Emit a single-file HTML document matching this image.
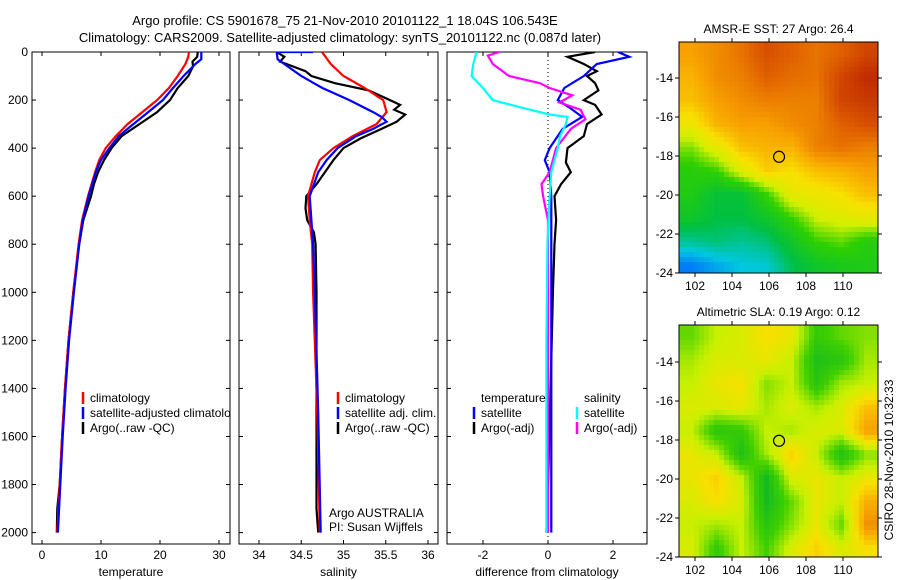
<!DOCTYPE html>
<html><head><meta charset="utf-8"><style>
body{margin:0;background:#fff;}
svg{display:block;font-family:"Liberation Sans",sans-serif;}
</style></head><body>
<svg id="fig" width="900" height="580" viewBox="0 0 900 580">
<text x="345" y="25" font-size="13" text-anchor="middle">Argo profile: CS 5901678_75 21-Nov-2010 20101122_1 18.04S 106.543E</text>
<text x="340" y="42" font-size="13" text-anchor="middle">Climatology: CARS2009. Satellite-adjusted climatology: synTS_20101122.nc (0.087d later)</text>
<text transform="translate(893,460) rotate(-90)" font-size="12" text-anchor="middle">CSIRO 28-Nov-2010 10:32:33</text>
</svg>
<script>
// ---- data ----
const tempClimP=[0,20,50,100,150,200,250,300,350,400,450,500,600,700,800,1000,1200,1400,1600,1800,2000];
const tempClimV=[24.9,24.8,24.3,23,21.5,19.5,17,14.5,12.5,10.8,9.7,9,7.8,6.8,6.2,5.3,4.5,3.9,3.4,3.0,2.6];
const tempSatP=[0,30,50,100,150,200,250,300,350,400,450,500,600,700,800,1000,1200,1400,1600,1800,2000];
const tempSatV=[27,27,26,24,22.2,20.5,18,15.5,13,11.4,10,9.1,7.9,6.9,6.3,5.4,4.6,4.0,3.5,3.1,2.7];
const tempArgoP=[0,20,40,60,100,150,200,250,300,350,400,450,500,550,600,700,800,1000,1200,1400,1600,1800,1900,2000];
const tempArgoV=[26.4,26.3,25.5,25.6,24.8,23,21.7,19.5,16.5,13.5,11.8,10.5,9.5,8.8,8.3,7.0,6.3,5.3,4.5,3.9,3.4,3.0,2.6,2.5];
const salClimP=[0,50,100,150,200,250,300,350,400,450,500,600,700,800,1000,1500,2000];
const salClimV=[34.745,34.85,35.0,35.25,35.47,35.51,35.39,35.11,34.88,34.72,34.66,34.58,34.6,34.63,34.64,34.69,34.72];
const salSatP=[0,0,30,50,80,100,130,150,200,250,270,290,320,350,400,450,500,600,700,800,1000,1500,2000];
const salSatV=[34.64,34.21,34.22,34.3,34.42,34.5,34.65,34.75,35.07,35.35,35.45,35.51,35.35,35.15,34.93,34.8,34.7,34.6,34.62,34.64,34.66,34.7,34.73];
const salArgoP=[0,20,40,60,80,100,130,160,200,220,240,260,290,320,360,400,450,500,550,600,650,700,750,800,1000,1500,1900,2000];
const salArgoV=[34.21,34.3,34.25,34.4,34.55,34.62,34.9,35.3,35.55,35.67,35.6,35.73,35.63,35.45,35.2,35.0,34.88,34.78,34.68,34.56,34.55,34.57,34.65,34.67,34.68,34.68,34.68,34.7];
const dTSatP=[0,20,50,100,150,200,230,270,320,400,450,500,600,800,1000,1500,2000];
const dTSatV=[2.15,2.5,1.5,1.1,0.5,0.3,0.65,1.05,0.45,0.05,-0.1,0.05,0.1,0.1,0.1,0.1,0.1];
const dTArgoP=[0,20,50,80,100,130,160,200,220,260,300,350,400,460,500,550,600,700,800,1000,1400,1800,2000];
const dTArgoV=[1.45,0.6,1.1,1.5,1.2,1.45,1.55,1.1,1.45,1.65,1.2,1.1,0.6,0.55,0.7,0.4,0.2,0.25,0.2,0.15,0.08,0.0,-0.05];
const dSSatP=[0,50,100,150,200,230,260,270,300,350,400,450,500,600,800,1200,2000];
const dSSatV=[-2.2,-2.3,-2.35,-2.0,-1.7,-0.85,0.05,0.6,0.55,0.37,0.3,0.2,0.1,0.05,-0.02,-0.05,-0.05];
const dSArgoP=[0,15,50,100,130,150,180,210,240,280,320,400,500,550,600,700,1000,1500,2000];
const dSArgoV=[-1.5,-1.85,-1.7,-1.2,-0.25,0.05,0.75,0.35,1.0,1.15,0.7,0.25,0.05,-0.2,-0.15,0,0,0,0];
const pTicks=[0,200,400,600,800,1000,1200,1400,1600,1800,2000];
const tTicks=[0,10,20,30];
const sTicks=[34,34.5,35,35.5,36];
const dTicks=[-2,0,2];
const latTicks=[-14,-16,-18,-20,-22,-24];
const lonTicks=[102,104,106,108,110];
const sstGrid=[
[.75,.78,.82,.88,.85,.82,.85,.9],
[.72,.78,.8,.85,.83,.82,.9,.95],
[.7,.75,.78,.8,.8,.8,.9,.92],
[.62,.72,.75,.75,.78,.8,.85,.88],
[.5,.6,.7,.72,.72,.8,.82,.8],
[.42,.45,.58,.68,.65,.7,.72,.75],
[.4,.32,.32,.45,.6,.62,.65,.7],
[.35,.3,.3,.35,.45,.55,.58,.6],
[.22,.25,.22,.25,.35,.45,.48,.42],
[.04,.1,.15,.16,.28,.35,.38,.4]];
const slaGrid=[
[.35,.5,.55,.65,.6,.25,.35,.4],
[.45,.55,.55,.6,.5,.15,.2,.45],
[.5,.6,.65,.4,.5,.2,.45,.5],
[.55,.55,.6,.45,.55,.45,.55,.75],
[.5,.2,.25,.5,.45,.55,.55,.85],
[.6,.5,.15,.45,.7,.5,.15,.4],
[.6,.7,.5,.1,.55,.6,.5,.6],
[.55,.65,.55,.1,.35,.6,.5,.8],
[.5,.45,.5,.2,.4,.6,.35,.9],
[.55,.25,.5,.3,.55,.7,.55,.65]];
const argoLon=106.543, argoLat=-18.04;

const NS="http://www.w3.org/2000/svg";
const svg=document.getElementById('fig');
function mk(tag,attrs,parent){const e=document.createElementNS(NS,tag);for(const k in attrs)e.setAttribute(k,attrs[k]);(parent||svg).appendChild(e);return e;}

const PTOP=52,PBOT=544;
const yP=p=>PTOP+p*0.2403;

function panel(name,x0,x1,xs,ticks,fmt,xlabel,showY){
  const g=mk('g',{});
  
  
  const fr=mk('rect',{x:x0,y:PTOP,width:x1-x0,height:PBOT-PTOP,fill:'none',stroke:'#000','stroke-width':1},g);
  
  
  pTicks.forEach(p=>{
    const y=yP(p);
    mk('line',{x1:x0,x2:x0+4,y1:y,y2:y,stroke:'#000'},g);
    mk('line',{x1:x1-4,x2:x1,y1:y,y2:y,stroke:'#000'},g);
    if(showY){const t=mk('text',{x:x0-4,y:y+4,'font-size':12,'text-anchor':'end'},g);t.textContent=p;
      
      }
  });
  ticks.forEach(v=>{
    const x=xs(v);
    mk('line',{x1:x,x2:x,y1:PTOP,y2:PTOP+4,stroke:'#000'},g);
    mk('line',{x1:x,x2:x,y1:PBOT-4,y2:PBOT,stroke:'#000'},g);
    const t=mk('text',{x:x,y:PBOT+15,'font-size':12,'text-anchor':'middle'},g);t.textContent=fmt(v);
    
    
  });
  const xl=mk('text',{x:(x0+x1)/2,y:PBOT+32,'font-size':12,'text-anchor':'middle'},g);xl.textContent=xlabel;
  
  
  return g;
}
let clipN=0;
function line(g,P,V,xs,color,name,x0,x1){
  const cid='clip'+(clipN++);
  const cp=mk('clipPath',{id:cid},g);mk('rect',{x:x0,y:PTOP,width:x1-x0,height:PBOT-PTOP},cp);
  const d=P.map((p,i)=>(i?'L':'M')+xs(V[i]).toFixed(1)+','+yP(p).toFixed(1)).join('');
  const e=mk('path',{d:d,fill:'none',stroke:color,'stroke-width':2.2,'clip-path':'url(#'+cid+')'},g);
  
  
}
function legend(g,x,y,color,label,name){
  if(color){mk('line',{x1:x,x2:x,y1:y-10,y2:y+2,stroke:color,'stroke-width':2.5},g);}
  const t=mk('text',{x:x+7,y:y,'font-size':12},g);t.textContent=label;
  
  
}

// Panel 1 temperature
const xT=v=>42+v*5.9;
const g1=panel('temperature-panel',32,230,xT,tTicks,v=>v,'temperature',true);
line(g1,tempArgoP,tempArgoV,xT,'#000','temp-argo-line',32,230);
line(g1,tempClimP,tempClimV,xT,'#f00','temp-climatology-line',32,230);
line(g1,tempSatP,tempSatV,xT,'#00f','temp-satellite-line',32,230);
const c1=mk('clipPath',{id:'lc1'},g1);mk('rect',{x:32,y:PTOP,width:198,height:PBOT-PTOP},c1);
const lg1=mk('g',{'clip-path':'url(#lc1)'},g1);
legend(lg1,83,402,'#f00','climatology','legend-climatology');
legend(lg1,83,417,'#00f','satellite-adjusted climatology','legend-satellite');
legend(lg1,83,432,'#000','Argo(..raw -QC)','legend-argo');

// Panel 2 salinity
const xS=v=>259+(v-34)*84.5;
const g2=panel('salinity-panel',239,438,xS,sTicks,v=>v,'salinity',false);
line(g2,salArgoP,salArgoV,xS,'#000','sal-argo-line',239,438);
line(g2,salClimP,salClimV,xS,'#f00','sal-climatology-line',239,438);
line(g2,salSatP,salSatV,xS,'#00f','sal-satellite-line',239,438);
legend(g2,338,402,'#f00','climatology','legend-climatology');
legend(g2,338,417,'#00f','satellite adj. clim.','legend-satellite');
legend(g2,338,432,'#000','Argo(..raw -QC)','legend-argo');
legend(g2,322,517,null,'Argo AUSTRALIA','argo-australia-label');
legend(g2,322,531,null,'PI: Susan Wijffels','pi-label');

// Panel 3 differences
const xD=v=>548+v*32.5;
const g3=panel('difference-panel',447,647,xD,dTicks,v=>v,'difference from climatology',false);
mk('line',{x1:xD(0),x2:xD(0),y1:PTOP,y2:PBOT,stroke:'#000','stroke-dasharray':'1,3'},g3);
line(g3,dTArgoP,dTArgoV,xD,'#000','diff-temp-argo-line',447,647);
line(g3,dTSatP,dTSatV,xD,'#00f','diff-temp-satellite-line',447,647);
line(g3,dSArgoP,dSArgoV,xD,'#f0f','diff-sal-argo-line',447,647);
line(g3,dSSatP,dSSatV,xD,'#0ff','diff-sal-satellite-line',447,647);
legend(g3,474,402,null,'temperature','legend-temperature-header');
legend(g3,577,402,null,'salinity','legend-salinity-header');
legend(g3,474,417,'#00f','satellite','legend-temp-satellite');
legend(g3,474,432,'#000','Argo(-adj)','legend-temp-argo');
legend(g3,577,417,'#0ff','satellite','legend-sal-satellite');
legend(g3,577,432,'#f0f','Argo(-adj)','legend-sal-argo');

// Maps
function lerpColor(stops,v){
  v=Math.max(0,Math.min(1,v));
  for(let i=1;i<stops.length;i++){if(v<=stops[i][0]){const a=stops[i-1],b=stops[i];const t=(v-a[0])/(b[0]-a[0]);
    const c=[0,1,2].map(k=>Math.round(a[1][k]+(b[1][k]-a[1][k])*t));return 'rgb('+c.join(',')+')';}}
  return 'rgb('+stops[stops.length-1][1].join(',')+')';
}
const sstStops=[[0,[0,96,255]],[0.15,[0,200,224]],[0.3,[0,192,64]],[0.45,[48,208,0]],[0.55,[208,240,0]],[0.65,[248,224,0]],[0.75,[248,160,0]],[0.85,[224,96,0]],[1,[176,16,0]]];
const slaStops=[[0,[0,176,48]],[0.3,[64,208,0]],[0.5,[200,240,0]],[0.65,[248,224,0]],[0.8,[248,176,0]],[1,[232,112,0]]];
function sample(grid,fx,fy){
  const R=grid.length,C=grid[0].length;
  const x=Math.max(0,Math.min(C-1,fx*C-0.5)),y=Math.max(0,Math.min(R-1,fy*R-0.5));
  const x0=Math.floor(x),y0=Math.floor(y),x1=Math.min(C-1,x0+1),y1=Math.min(R-1,y0+1),tx=x-x0,ty=y-y0;
  return grid[y0][x0]*(1-tx)*(1-ty)+grid[y0][x1]*tx*(1-ty)+grid[y1][x0]*(1-tx)*ty+grid[y1][x1]*tx*ty;
}
function drawMap(name,title,grid,stops,y0,y1,lat14y,pxLat){
  const x0=679,x1=878;
  const g=mk('g',{});
  
  
  const cs=5, nx=Math.ceil((x1-x0)/cs), ny=Math.ceil((y1-y0)/cs);
  for(let j=0;j<ny;j++)for(let i=0;i<nx;i++){
    const v=sample(grid,(i+0.5)/nx,(j+0.5)/ny);
    const w=Math.min(cs,x1-x0-i*cs),h=Math.min(cs,y1-y0-j*cs);
    mk('rect',{x:x0+i*cs,y:y0+j*cs,width:w+0.5,height:h+0.5,fill:lerpColor(stops,v)},g);
  }
  mk('rect',{x:x0,y:y0,width:x1-x0,height:y1-y0,fill:'none',stroke:'#000'},g);
  const xL=lon=>695+(lon-102)*18.5;
  const yL=lat=>lat14y+(-14-lat)*pxLat;
  latTicks.forEach(l=>{const y=yL(l);
    mk('line',{x1:x0-4,x2:x0,y1:y,y2:y,stroke:'#000'},g);mk('line',{x1:x1,x2:x1+4,y1:y,y2:y,stroke:'#000'},g);
    const t=mk('text',{x:x0-6,y:y+4,'font-size':12,'text-anchor':'end'},g);t.textContent=l;
    
    });
  lonTicks.forEach(l=>{const x=xL(l);
    mk('line',{x1:x,x2:x,y1:y0-4,y2:y0,stroke:'#000'},g);mk('line',{x1:x,x2:x,y1:y1,y2:y1+4,stroke:'#000'},g);
    const t=mk('text',{x:x,y:y1+17,'font-size':12,'text-anchor':'middle'},g);t.textContent=l;
    
    });
  const tt=mk('text',{x:(x0+x1)/2,y:y0-9,'font-size':12,'text-anchor':'middle'},g);tt.textContent=title;
  
  
  const c=mk('circle',{cx:xL(argoLon),cy:yL(argoLat),r:5.5,fill:'none',stroke:'#000','stroke-width':1.2},g);
  
  
}
drawMap('sst-map','AMSR-E SST: 27 Argo: 26.4',sstGrid,sstStops,42,273,78,19.5);
drawMap('sla-map','Altimetric SLA: 0.19 Argo: 0.12',slaGrid,slaStops,325,557,362,19.5);
</script>
</body></html>
